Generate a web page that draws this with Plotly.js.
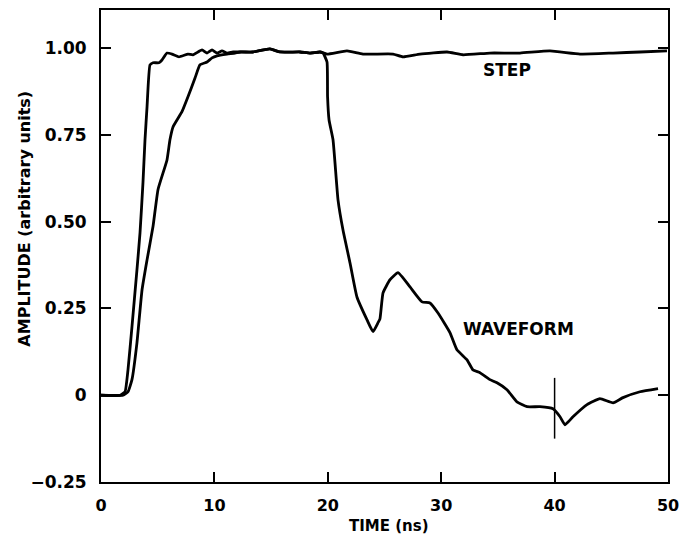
<!DOCTYPE html>
<html>
<head>
<meta charset="utf-8">
<script src="https://cdn.plot.ly/plotly-3.0.1.min.js"></script>
<style>
html,body{margin:0;padding:0;background:#fff;}
#chart{width:687px;height:537px;}
</style>
</head>
<body>
<div id="chart"></div>
<script>
// STEP trace (time in ns, amplitude)
var stepTime = [0, 1.68, 2.12, 2.38, 2.73, 3.17, 3.44, 3.70, 3.88, 4.06, 4.32, 4.59, 5.11, 5.38, 5.82, 6.26, 6.88, 7.67, 8.11, 8.91, 9.35, 9.79, 10.23, 10.67, 11.11, 11.64, 12.26, 13.40, 14.90, 15.78, 17.55, 18.43, 19.31, 19.93, 21.69, 23.10, 25.75, 26.63, 28.13, 30.51, 31.92, 34.30, 36.95, 39.59, 42.24, 45.15, 47.53, 49.91];
var stepAmp = [0, 0, 0.010, 0.073, 0.197, 0.361, 0.468, 0.612, 0.736, 0.831, 0.952, 0.958, 0.958, 0.966, 0.986, 0.983, 0.975, 0.983, 0.981, 0.995, 0.986, 0.995, 0.986, 0.992, 0.986, 0.989, 0.989, 0.989, 0.998, 0.989, 0.989, 0.986, 0.989, 0.983, 0.992, 0.983, 0.983, 0.975, 0.983, 0.989, 0.981, 0.986, 0.986, 0.992, 0.983, 0.986, 0.989, 0.992];

// WAVEFORM trace
var waveTime = [0, 1.94, 2.38, 2.73, 3.17, 3.62, 4.06, 4.59, 5.03, 5.82, 6.08, 6.35, 7.14, 7.67, 8.29, 8.73, 9.35, 9.79, 10.23, 11.11, 11.82, 12.26, 13.40, 14.90, 15.78, 17.55, 18.43, 19.31, 19.58, 19.93, 19.98, 20.11, 20.46, 20.90, 21.34, 21.96, 22.57, 23.46, 23.99, 24.43, 24.60, 24.87, 25.49, 26.19, 27.25, 28.31, 29.01, 29.72, 30.78, 31.39, 32.28, 32.80, 33.42, 34.30, 34.92, 35.80, 36.68, 37.57, 38.71, 39.86, 40.48, 40.92, 41.62, 42.86, 44.00, 45.15, 46.03, 47.53, 49.12];
var waveAmp = [0, 0, 0.010, 0.045, 0.151, 0.304, 0.390, 0.487, 0.593, 0.678, 0.736, 0.773, 0.817, 0.860, 0.914, 0.952, 0.960, 0.972, 0.978, 0.983, 0.986, 0.989, 0.989, 0.998, 0.989, 0.989, 0.986, 0.989, 0.986, 0.960, 0.860, 0.793, 0.736, 0.563, 0.476, 0.381, 0.283, 0.217, 0.183, 0.209, 0.220, 0.295, 0.333, 0.353, 0.312, 0.269, 0.266, 0.237, 0.180, 0.131, 0.102, 0.073, 0.065, 0.045, 0.036, 0.016, -0.019, -0.033, -0.033, -0.039, -0.062, -0.085, -0.062, -0.027, -0.010, -0.022, -0.007, 0.010, 0.019];

// vertical marker at 40 ns
var markerTime = [40, 40];
var markerAmp = [0.050, -0.125];

// axis ticks
var xTickVals = [0, 10, 20, 30, 40, 50];
var xTickText = ['0', '10', '20', '30', '40', '50'];
var yTickVals = [-0.25, 0, 0.25, 0.5, 0.75, 1.0];
var yTickText = ['\u22120.25', '0', '0.25', '0.50', '0.75', '1.00'];

// labels
var labelText = ['STEP', 'WAVEFORM'];
var labelTime = [35.8, 36.86];
var labelAmp = [0.937, 0.192];

var FONT = 'DejaVu Sans, Liberation Sans, sans-serif';

var traces = [
  {x: stepTime, y: stepAmp, mode: 'lines', line: {color: '#000', width: 2.8, shape: 'spline', smoothing: 0.4}, hoverinfo: 'skip'},
  {x: waveTime, y: waveAmp, mode: 'lines', line: {color: '#000', width: 2.8, shape: 'spline', smoothing: 0.4}, hoverinfo: 'skip'},
  {x: markerTime, y: markerAmp, mode: 'lines', line: {color: '#000', width: 1.5}, hoverinfo: 'skip'}
];

var annotations = labelText.map(function(t, i) {
  return {x: labelTime[i], y: labelAmp[i], xref: 'x', yref: 'y', text: t, showarrow: false,
          font: {family: FONT, size: 17, color: '#000', weight: 'bold'}};
});
annotations.push({
  text: 'AMPLITUDE (arbitrary units)', xref: 'paper', yref: 'paper', x: -0.134, y: 0.558,
  xanchor: 'center', yanchor: 'middle', textangle: -90, showarrow: false,
  font: {family: FONT, size: 16, color: '#000', weight: 'bold'}
});
annotations.push({
  text: 'TIME (ns)', xref: 'paper', yref: 'paper', x: 0.508, y: -0.094,
  xanchor: 'center', yanchor: 'middle', showarrow: false,
  font: {family: FONT, size: 15, color: '#000', weight: 'bold'}
});

var layout = {
  width: 687, height: 537,
  margin: {l: 101, r: 19, t: 10, b: 55},
  paper_bgcolor: '#fff', plot_bgcolor: '#fff',
  showlegend: false,
  font: {family: FONT, color: '#000'},
  xaxis: {
    range: [0, 50], tickvals: xTickVals, ticktext: xTickText,
    ticks: 'inside', ticklen: 10, tickwidth: 2, tickcolor: '#000',
    showline: true, linecolor: '#000', linewidth: 2, mirror: 'ticks',
    showgrid: false, zeroline: false,
    ticklabelstandoff: 8,
    tickfont: {family: FONT, size: 16, color: '#000', weight: 'bold'}
  },
  yaxis: {
    range: [-0.25, 1.11], tickvals: yTickVals, ticktext: yTickText,
    ticks: 'inside', ticklen: 10, tickwidth: 2, tickcolor: '#000',
    showline: true, linecolor: '#000', linewidth: 2, mirror: 'ticks',
    showgrid: false, zeroline: false,
    ticklabelstandoff: 9,
    tickfont: {family: FONT, size: 17, color: '#000', weight: 'bold'}
  },
  annotations: annotations
};

Plotly.newPlot('chart', traces, layout, {staticPlot: true});
</script>
</body>
</html>
